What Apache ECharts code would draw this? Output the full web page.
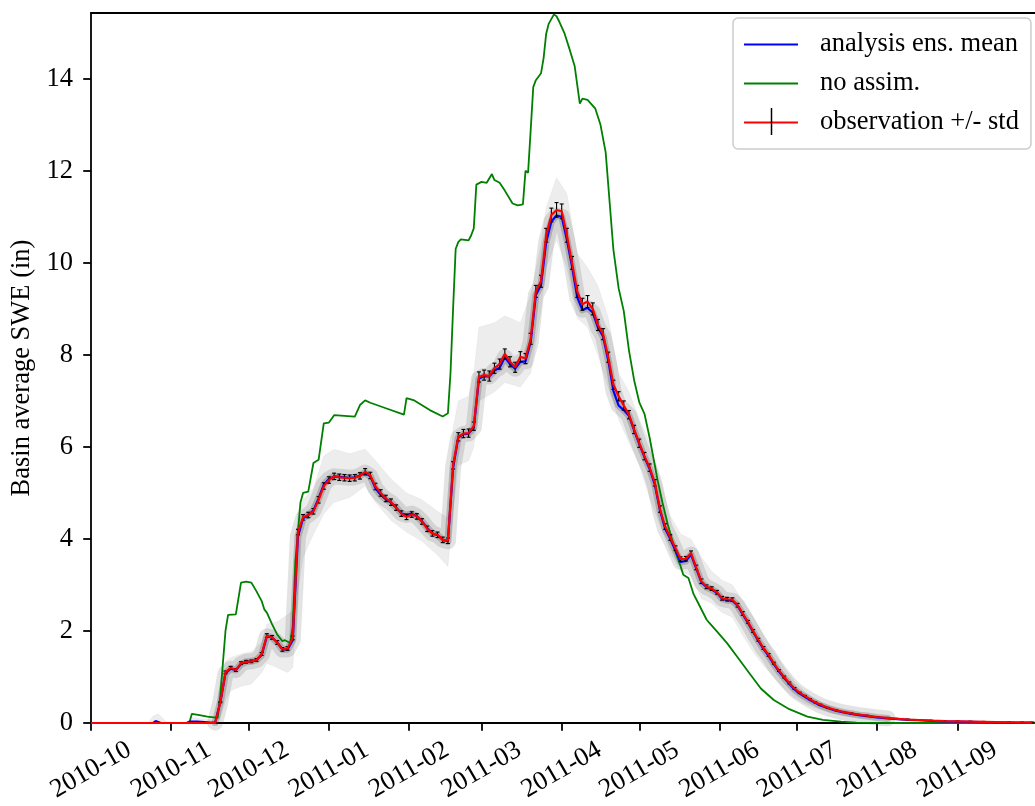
<!DOCTYPE html>
<html>
<head>
<meta charset="utf-8">
<script src="https://cdn.jsdelivr.net/npm/echarts@6/dist/echarts.min.js"></script>
<style>
  html, body { margin: 0; padding: 0; background: #fff; }
  #chart { width: 1035px; height: 806px; }
</style>
</head>
<body>
<div id="chart"></div>
<script>
// Month ticks on the date axis and SWE ticks on the value axis
const monthTicks = ['2010-10-01','2010-11-01','2010-12-01','2011-01-01','2011-02-01','2011-03-01',
  '2011-04-01','2011-05-01','2011-06-01','2011-07-01','2011-08-01','2011-09-01'];
const sweTicks = [0, 2, 4, 6, 8, 10, 12, 14];

// Observation dates, observed basin SWE (in), its std, and the analysis ensemble mean
const obsDates = ['2010-10-01','2010-10-11','2010-10-21','2010-10-25','2010-10-26','2010-10-28','2010-10-31',
  '2010-11-07','2010-11-08','2010-11-11','2010-11-14','2010-11-16','2010-11-18','2010-11-20','2010-11-22',
  '2010-11-24','2010-11-26','2010-11-28','2010-11-30','2010-12-02','2010-12-04','2010-12-06','2010-12-08',
  '2010-12-10','2010-12-12','2010-12-14','2010-12-16','2010-12-18','2010-12-20','2010-12-22','2010-12-24',
  '2010-12-26','2010-12-28','2010-12-30','2011-01-01','2011-01-03','2011-01-05','2011-01-07','2011-01-09',
  '2011-01-11','2011-01-13','2011-01-15','2011-01-17','2011-01-19','2011-01-21','2011-01-23','2011-01-25',
  '2011-01-27','2011-01-29','2011-01-31','2011-02-02','2011-02-04','2011-02-06','2011-02-08','2011-02-10',
  '2011-02-12','2011-02-14','2011-02-16','2011-02-18','2011-02-20','2011-02-22','2011-02-24','2011-02-26',
  '2011-02-28','2011-03-02','2011-03-04','2011-03-06','2011-03-08','2011-03-10','2011-03-12','2011-03-14',
  '2011-03-16','2011-03-18','2011-03-20','2011-03-22','2011-03-24','2011-03-26','2011-03-28','2011-03-30',
  '2011-04-01','2011-04-03','2011-04-05','2011-04-07','2011-04-09','2011-04-11','2011-04-13','2011-04-15',
  '2011-04-17','2011-04-19','2011-04-21','2011-04-23','2011-04-25','2011-04-27','2011-04-29','2011-05-01',
  '2011-05-03','2011-05-05','2011-05-07','2011-05-09','2011-05-11','2011-05-13','2011-05-15','2011-05-17',
  '2011-05-19','2011-05-21','2011-05-23','2011-05-25','2011-05-27','2011-05-29','2011-05-31','2011-06-02',
  '2011-06-04','2011-06-06','2011-06-08','2011-06-10','2011-06-12','2011-06-14','2011-06-16','2011-06-18',
  '2011-06-20','2011-06-22','2011-06-24','2011-06-26','2011-06-28','2011-06-30','2011-07-02','2011-07-04',
  '2011-07-06','2011-07-08','2011-07-10','2011-07-13','2011-07-16','2011-07-19','2011-07-22','2011-07-25',
  '2011-07-28','2011-08-01','2011-08-05','2011-08-09','2011-08-13','2011-08-17','2011-08-22','2011-08-27',
  '2011-09-01','2011-09-06','2011-09-11','2011-09-16','2011-09-21','2011-09-26','2011-09-30'];

const obsSWE = [0,0,0,0,0,0,0,
  0,0,0,0,0,0,0.45,1.10,
  1.20,1.15,1.30,1.33,1.34,1.37,1.50,1.90,
  1.86,1.75,1.60,1.62,1.85,4.15,4.47,4.52,
  4.60,4.85,5.15,5.28,5.36,5.34,5.33,5.32,
  5.33,5.37,5.46,5.38,5.14,5.00,4.88,4.80,
  4.68,4.55,4.48,4.53,4.49,4.38,4.22,4.12,
  4.09,3.98,3.96,5.60,6.22,6.29,6.30,6.45,
  7.52,7.56,7.54,7.71,7.80,8.02,7.85,7.73,
  7.96,7.92,8.35,9.38,9.60,10.60,11.04,11.15,
  11.12,10.60,10.00,9.38,9.10,9.16,9.00,8.65,
  8.45,7.95,7.35,7.10,6.90,6.70,6.38,6.08,
  5.80,5.55,5.22,4.65,4.27,4.03,3.80,3.56,
  3.57,3.69,3.38,3.08,2.96,2.92,2.84,2.71,
  2.69,2.68,2.56,2.38,2.20,2.00,1.81,1.63,
  1.48,1.30,1.14,1.00,0.87,0.75,0.66,0.59,
  0.52,0.45,0.40,0.33,0.28,0.24,0.21,0.18,
  0.16,0.13,0.11,0.09,0.075,0.065,0.05,0.04,
  0.035,0.03,0.025,0.02,0.015,0.01,0.01];

const obsStd = [0,0,0,0,0,0,0,
  0,0,0,0,0,0,0.01,0.03,
  0.03,0.03,0.03,0.03,0.03,0.03,0.03,0.04,
  0.04,0.04,0.04,0.04,0.04,0.06,0.06,0.06,
  0.06,0.07,0.07,0.07,0.07,0.07,0.07,0.07,
  0.07,0.07,0.07,0.07,0.07,0.07,0.07,0.07,
  0.06,0.06,0.06,0.06,0.06,0.06,0.06,0.06,
  0.06,0.06,0.06,0.08,0.09,0.09,0.09,0.09,
  0.11,0.11,0.11,0.11,0.11,0.11,0.11,0.11,
  0.11,0.11,0.12,0.13,0.13,0.15,0.15,0.16,
  0.16,0.15,0.14,0.13,0.13,0.13,0.13,0.12,
  0.12,0.11,0.10,0.10,0.10,0.09,0.09,0.09,
  0.08,0.08,0.07,0.07,0.06,0.06,0.05,0.05,
  0.05,0.05,0.05,0.05,0.04,0.04,0.04,0.04,
  0.04,0.04,0.04,0.04,0.03,0.03,0.03,0.03,
  0.03,0.02,0.02,0.02,0.02,0.02,0.01,0.01,
  0.01,0.01,0.01,0.01,0.01,0.01,0.01,0.01,
  0.01,0.01,0.01,0.01,0.01,0.01,0.01,0.01,
  0.01,0.01,0.01,0.01,0.01,0.01,0.01];

const meanSWE = [0,0,0,0,0.04,0,0,
  0,0.03,0.03,0.02,0.01,0.01,0.45,1.08,
  1.18,1.15,1.28,1.33,1.34,1.37,1.48,1.88,
  1.86,1.75,1.60,1.60,1.80,4.05,4.45,4.52,
  4.62,4.88,5.18,5.30,5.36,5.35,5.34,5.33,
  5.34,5.38,5.44,5.36,5.10,4.96,4.86,4.79,
  4.68,4.56,4.52,4.55,4.49,4.38,4.24,4.12,
  4.08,3.98,3.95,5.55,6.20,6.28,6.29,6.42,
  7.48,7.54,7.53,7.66,7.72,7.95,7.80,7.70,
  7.85,7.86,8.28,9.30,9.52,10.45,10.90,11.03,
  11.00,10.50,9.92,9.25,8.98,9.02,8.92,8.60,
  8.40,7.88,7.22,6.90,6.80,6.68,6.36,6.06,
  5.78,5.52,5.18,4.62,4.22,4.00,3.74,3.50,
  3.52,3.66,3.36,3.06,2.95,2.90,2.83,2.70,
  2.67,2.66,2.55,2.36,2.18,1.98,1.79,1.61,
  1.46,1.28,1.12,0.98,0.85,0.73,0.64,0.57,
  0.50,0.44,0.38,0.32,0.27,0.23,0.20,0.17,
  0.15,0.12,0.10,0.085,0.07,0.06,0.045,0.035,
  0.03,0.025,0.02,0.015,0.01,0.01,0.01];

// Open-loop run without assimilation
const noAssimDates = ['2010-10-01','2010-11-08','2010-11-09','2010-11-12','2010-11-15','2010-11-19','2010-11-20',
  '2010-11-21','2010-11-22','2010-11-23','2010-11-26','2010-11-28','2010-11-30','2010-12-02','2010-12-04',
  '2010-12-06','2010-12-07','2010-12-08','2010-12-10','2010-12-12','2010-12-14','2010-12-15','2010-12-17',
  '2010-12-18','2010-12-19','2010-12-21','2010-12-22','2010-12-24','2010-12-26','2010-12-28','2010-12-30',
  '2011-01-01','2011-01-03','2011-01-11','2011-01-13','2011-01-15','2011-01-17','2011-01-23','2011-01-30',
  '2011-01-31','2011-02-03','2011-02-09','2011-02-14','2011-02-16','2011-02-17','2011-02-18','2011-02-19',
  '2011-02-20','2011-02-21','2011-02-24','2011-02-25','2011-02-26','2011-02-27','2011-03-01','2011-03-03',
  '2011-03-05','2011-03-06','2011-03-08','2011-03-10','2011-03-13','2011-03-15','2011-03-17','2011-03-18',
  '2011-03-19','2011-03-20','2011-03-21','2011-03-22','2011-03-24','2011-03-25','2011-03-26','2011-03-27',
  '2011-03-29','2011-03-30','2011-03-31','2011-04-02','2011-04-04','2011-04-06','2011-04-08','2011-04-09',
  '2011-04-11','2011-04-14','2011-04-16','2011-04-18','2011-04-21','2011-04-23','2011-04-25','2011-04-27',
  '2011-04-29','2011-05-01','2011-05-03','2011-05-05','2011-05-08','2011-05-10','2011-05-12','2011-05-15',
  '2011-05-17','2011-05-18','2011-05-20','2011-05-22','2011-05-24','2011-05-27','2011-05-28','2011-05-31',
  '2011-06-04','2011-06-08','2011-06-13','2011-06-17','2011-06-22','2011-06-28','2011-07-05','2011-07-11',
  '2011-07-18','2011-07-24','2011-08-07','2011-10-01'];
const noAssimSWE = [0,0,0.2,0.17,0.14,0.11,0.6,
  1.3,2.0,2.35,2.36,3.05,3.07,3.05,2.86,
  2.65,2.47,2.4,2.15,1.92,1.78,1.8,1.74,
  2.1,3.5,4.8,5.0,5.03,5.65,5.72,6.51,
  6.53,6.69,6.66,6.91,7.01,6.96,6.84,6.7,
  7.06,7.01,6.8,6.66,6.73,7.6,9.0,10.3,
  10.45,10.51,10.49,10.6,10.75,11.7,11.76,11.74,
  11.93,11.8,11.74,11.57,11.29,11.25,11.27,12.0,
  11.96,12.88,13.82,13.97,14.12,14.45,14.98,15.2,
  15.4,15.36,15.25,15.0,14.65,14.28,13.46,13.57,
  13.54,13.35,13.0,12.4,10.28,9.45,8.95,8.1,
  7.45,6.97,6.72,6.2,5.3,4.78,4.32,3.72,
  3.4,3.22,3.15,2.8,2.58,2.25,2.18,1.99,
  1.73,1.43,1.05,0.75,0.5,0.3,0.14,0.07,
  0.03,0.01,0,0];

// Spread of the ensemble members (lowest and highest member)
const ensDates = ['2010-10-01','2010-10-23','2010-10-25','2010-10-27','2010-10-30','2010-11-01','2010-11-07',
  '2010-11-09','2010-11-18','2010-11-20','2010-11-22','2010-11-24','2010-11-28','2010-12-02','2010-12-06',
  '2010-12-08','2010-12-12','2010-12-16','2010-12-18','2010-12-20','2010-12-22','2010-12-26','2010-12-30',
  '2011-01-03','2011-01-09','2011-01-15','2011-01-19','2011-01-25','2011-01-31','2011-02-06','2011-02-12',
  '2011-02-16','2011-02-18','2011-02-20','2011-02-24','2011-02-26','2011-02-28','2011-03-06','2011-03-10',
  '2011-03-16','2011-03-20','2011-03-24','2011-03-26','2011-03-30','2011-04-03','2011-04-07','2011-04-11',
  '2011-04-15','2011-04-19','2011-04-23','2011-04-27','2011-05-01','2011-05-05','2011-05-09','2011-05-13',
  '2011-05-17','2011-05-21','2011-05-25','2011-05-29','2011-06-02','2011-06-06','2011-06-10','2011-06-14',
  '2011-06-18','2011-06-22','2011-06-26','2011-06-30','2011-07-04','2011-07-08','2011-07-14','2011-07-20',
  '2011-07-28','2011-08-07','2011-08-22','2011-09-06','2011-09-30'];
const ensLow = [0,0,0,0,0,0,0,
  0,0,0.1,0.5,0.7,0.8,0.85,1.1,
  1.3,1.2,1.1,1.2,2.9,3.6,4.1,4.55,
  4.8,4.9,5.15,4.8,4.4,4.15,3.95,3.65,
  3.4,4.6,5.6,5.7,6.0,7.0,7.2,7.4,
  7.3,7.6,9.0,9.9,10.5,9.9,8.8,8.6,
  8.0,7.3,6.6,6.1,5.6,4.9,4.3,3.7,
  3.3,3.2,2.7,2.6,2.4,2.3,1.9,1.55,
  1.25,1.0,0.75,0.55,0.42,0.33,0.22,0.15,
  0.1,0.06,0.03,0.01,0];
const ensHigh = [0,0,0.15,0.2,0.03,0,0,
  0.12,0.05,0.9,1.35,1.42,1.5,1.55,1.75,
  2.15,2.2,2.35,2.45,4.6,4.85,5.1,5.8,
  5.95,5.85,5.95,5.7,5.3,5.0,4.85,4.6,
  4.45,6.4,7.0,7.1,7.6,8.6,8.7,8.85,
  8.7,9.3,10.4,11.2,11.85,11.5,10.2,9.9,
  9.5,8.8,7.6,7.2,6.6,6.1,5.3,4.5,
  4.1,4.0,3.6,3.3,3.1,3.0,2.65,2.3,
  1.9,1.55,1.2,0.9,0.68,0.52,0.36,0.26,
  0.18,0.12,0.07,0.04,0.02];

const SERIF = '"Liberation Serif", "Times New Roman", "DejaVu Serif", serif';
const FS = 26.5;
// dates become UTC millisecond values on a linear axis
const toT = s => Date.parse(s + 'T00:00:00Z');
const monthT = monthTicks.map(toT);
const obsT = obsDates.map(toT);
const ensT = ensDates.map(toT);

const obsData = obsT.map((t, i) => [t, obsSWE[i], obsStd[i]]);
const meanData = obsT.map((t, i) => [t, meanSWE[i]]);
const noAssimData = noAssimDates.map((d, i) => [toT(d), noAssimSWE[i]]);
// the members crowd around the mean only while there is snow on the ground
const snowSeason = meanData.filter(d => d[0] >= toT('2010-11-18') && d[0] <= toT('2011-08-05'));

const monthLabel = v => {
  const d = new Date(v);
  const m = d.getUTCMonth() + 1;
  return d.getUTCFullYear() + '-' + (m < 10 ? '0' + m : m);
};

const chart = echarts.init(document.getElementById('chart'), null, { renderer: 'canvas' });

const xCommon = {
  type: 'value',
  min: toT('2010-10-01'),
  max: toT('2011-10-01'),
  splitLine: { show: false }
};

const option = {
  animation: false,
  backgroundColor: '#ffffff',
  grid: { left: 91, top: 13, right: 0, bottom: 83, containLabel: false },
  legend: {
    orient: 'vertical',
    left: 733,
    top: 18,
    padding: [13, 12, 13, 11],
    itemGap: 12,
    itemWidth: 54,
    itemHeight: 2,
    icon: 'rect',
    backgroundColor: 'rgba(255,255,255,0.85)',
    borderColor: '#cccccc',
    borderWidth: 1.5,
    borderRadius: 5,
    textStyle: { fontFamily: SERIF, fontSize: FS, color: '#000', padding: [0, 0, 0, 17] },
    data: ['analysis ens. mean', 'no assim.', 'observation +/- std']
  },
  xAxis: [
    Object.assign({}, xCommon, {
      position: 'bottom',
      axisLine: { lineStyle: { color: '#000', width: 1.8 } },
      axisTick: { show: true, length: 7.8, inside: false, customValues: monthT,
                  lineStyle: { color: '#000', width: 1.8 } },
      axisLabel: {
        customValues: monthT,
        rotate: 30,
        align: 'center',
        verticalAlign: 'middle',
        margin: 47,
        fontFamily: SERIF,
        fontSize: FS,
        color: '#000',
        formatter: monthLabel
      }
    }),
    Object.assign({}, xCommon, {
      position: 'top',
      axisLine: { lineStyle: { color: '#000', width: 1.8 } },
      axisTick: { show: false },
      axisLabel: { show: false }
    })
  ],
  yAxis: {
    type: 'value',
    min: 0,
    max: 15.43,
    name: 'Basin average SWE (in)',
    nameLocation: 'middle',
    nameRotate: 90,
    nameGap: 53,
    nameTextStyle: { fontFamily: SERIF, fontSize: FS, color: '#000' },
    splitLine: { show: false },
    axisLine: { show: true, lineStyle: { color: '#000', width: 1.8 } },
    axisTick: { show: true, length: 7.8, customValues: sweTicks, lineStyle: { color: '#000', width: 1.8 } },
    axisLabel: { customValues: sweTicks, margin: 18, fontFamily: SERIF, fontSize: FS, color: '#000' }
  },
  series: [
    {
      // ensemble envelope
      type: 'custom',
      silent: true,
      clip: true,
      z: 1,
      data: [[ensT[0], 0]],
      renderItem: function (params, api) {
        const pts = [];
        for (let i = 0; i < ensT.length; i++) pts.push(api.coord([ensT[i], ensHigh[i]]));
        for (let i = ensT.length - 1; i >= 0; i--) pts.push(api.coord([ensT[i], ensLow[i]]));
        return { type: 'polygon', shape: { points: pts }, style: { fill: 'rgba(0,0,0,0.07)', stroke: 'rgba(0,0,0,0.04)', lineWidth: 1 } };
      }
    },
    {
      // dense core of the ensemble around the mean
      type: 'line', silent: true, symbol: 'none', z: 2,
      data: snowSeason,
      lineStyle: { color: 'rgba(60,60,60,0.14)', width: 16, join: 'round', cap: 'round' }
    },
    {
      type: 'line', silent: true, symbol: 'none', z: 2,
      data: snowSeason,
      lineStyle: { color: 'rgba(60,60,60,0.26)', width: 7, join: 'round', cap: 'round' }
    },
    {
      name: 'no assim.',
      type: 'line', symbol: 'none', z: 3,
      data: noAssimData,
      lineStyle: { color: '#008000', width: 1.8 },
      itemStyle: { color: '#008000' }
    },
    {
      name: 'analysis ens. mean',
      type: 'line', symbol: 'none', z: 4,
      data: meanData,
      lineStyle: { color: '#0000ff', width: 2.2 },
      itemStyle: { color: '#0000ff' }
    },
    {
      // observation error bars
      type: 'custom', silent: true, z: 5,
      data: obsData,
      encode: { x: 0, y: 1 },
      renderItem: function (params, api) {
        const t = api.value(0), v = api.value(1), s = api.value(2);
        if (!(s > 0)) return null;
        const top = api.coord([t, v + s]);
        const bot = api.coord([t, v - s]);
        const st = { stroke: '#000', lineWidth: 1.1 };
        return {
          type: 'group',
          children: [
            { type: 'line', shape: { x1: top[0], y1: top[1], x2: bot[0], y2: bot[1] }, style: st },
            { type: 'line', shape: { x1: top[0] - 2, y1: top[1], x2: top[0] + 2, y2: top[1] }, style: st },
            { type: 'line', shape: { x1: bot[0] - 2, y1: bot[1], x2: bot[0] + 2, y2: bot[1] }, style: st }
          ]
        };
      }
    },
    {
      name: 'observation +/- std',
      type: 'line', symbol: 'none', z: 6,
      data: obsData.map(d => [d[0], d[1]]),
      lineStyle: { color: '#ff0000', width: 2.2 },
      itemStyle: { color: '#ff0000' }
    }
  ],
  graphic: [
    {
      // error-bar mark on the observation legend entry
      type: 'line', z: 100,
      shape: { x1: 771.5, y1: 108, x2: 771.5, y2: 135 },
      style: { stroke: '#000', lineWidth: 1.5 }
    }
  ]
};

chart.setOption(option);
</script>
</body>
</html>
